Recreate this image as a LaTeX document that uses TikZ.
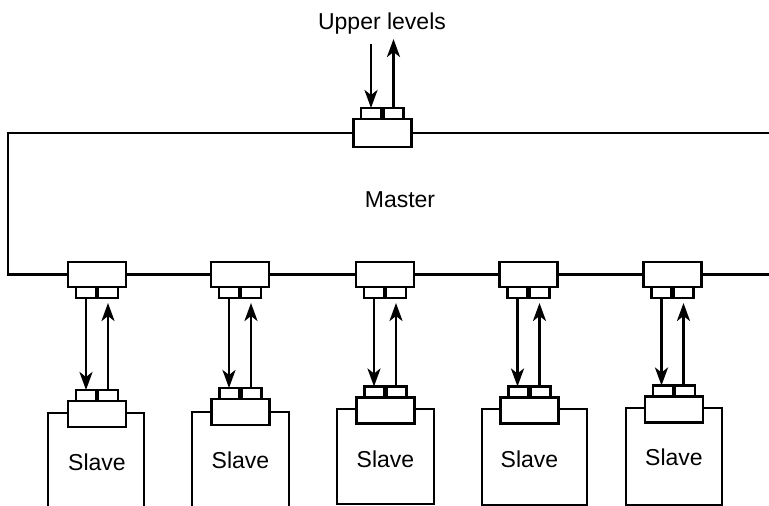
\documentclass[tikz,border=0pt]{standalone}
\usepackage{fontspec}
\setmainfont{Liberation Sans}
\usetikzlibrary{arrows.meta}
\begin{document}
\begin{tikzpicture}[x=1pt,y=-1pt,
  wire/.style={line width=2.8pt},
  portbox/.style={draw, line width=2.8pt, fill=white, inner sep=0pt, outer sep=0pt,
                  minimum width=58pt, minimum height=26pt},
  subbox/.style={draw, line width=2.8pt, fill=white, inner sep=0pt, outer sep=0pt,
                 minimum width=20pt, minimum height=11pt},
  signal/.style={line width=2.8pt, -{Stealth[length=18pt,width=13pt,inset=5pt]}},
  txt/.style={font=\fontsize{23}{27}\selectfont, inner sep=0pt, anchor=base}]
\useasboundingbox (0,0) rectangle (769,506);

% master port towards the upper levels
\node[portbox, minimum height=28pt] (tp) at (382.5,133) {};
\node[subbox, anchor=south] (tpL) at ([xshift=-11.5pt]tp.north) {};
\node[subbox, anchor=south] (tpR) at ([xshift=11pt]tp.north) {};
\coordinate (upIn) at (371,44);
\coordinate (upOut) at (393.5,39);
\draw[signal] (upIn) -- (tpL.north);
\draw[signal] (tpR.north) -- (upOut);
\node[txt] (upper) at (382,29) {Upper levels};
\node[txt] (master) at (400,207) {Master};

% master ports, links and slaves
\foreach \i/\mx/\sx/\sy/\bl/\br/\bt/\bb/\ty/\cl in {
  1/97/97/414/48/144/413/506/470/0,
  2/240/240.5/412/192/289/412/506/468/0,
  3/385/385.5/410.5/337/434/409/504/467/1,
  4/528.5/529.5/410.5/482/587/409/505/467/1,
  5/672.5/674/409.5/626/722/408/505/465/1}{
  \ifnum\cl=1
    \draw[wire] (\bl,\bt) rectangle (\br,\bb);
  \else
    \draw[wire] (\bl,\bb) -- (\bl,\bt) -- (\br,\bt) -- (\br,\bb);
  \fi
  \node[portbox, minimum height=25pt] (mp\i) at (\mx,274.5) {};
  \node[subbox, anchor=north] (mpL\i) at ([xshift=-11pt]mp\i.south) {};
  \node[subbox, anchor=north] (mpR\i) at ([xshift=11pt]mp\i.south) {};
  \node[portbox] (sp\i) at (\sx,\sy) {};
  \node[subbox, anchor=south] (spL\i) at ([xshift=-11pt]sp\i.north) {};
  \node[subbox, anchor=south] (spR\i) at ([xshift=11pt]sp\i.north) {};
  \draw[signal] (mpL\i.south) -- (mpL\i.south |- spL\i.north);
  \draw[signal, shorten >=5pt] (mpR\i.south |- spR\i.north) -- (mpR\i.south);
  \node[txt] (slave\i) at (\sx,\ty) {Slave};
}

% master outline
\coordinate (tl) at (8,133);
\coordinate (tr) at (769,133);
\coordinate (bl) at (8,274.5);
\coordinate (br) at (769,274.5);
\draw[wire] (br) -- (mp5.east) (mp5.west) -- (mp4.east) (mp4.west) -- (mp3.east)
  (mp3.west) -- (mp2.east) (mp2.west) -- (mp1.east)
  (mp1.west) -- (bl) -- (tl) -- (tp.west) (tp.east) -- (tr);
\end{tikzpicture}
\end{document}
